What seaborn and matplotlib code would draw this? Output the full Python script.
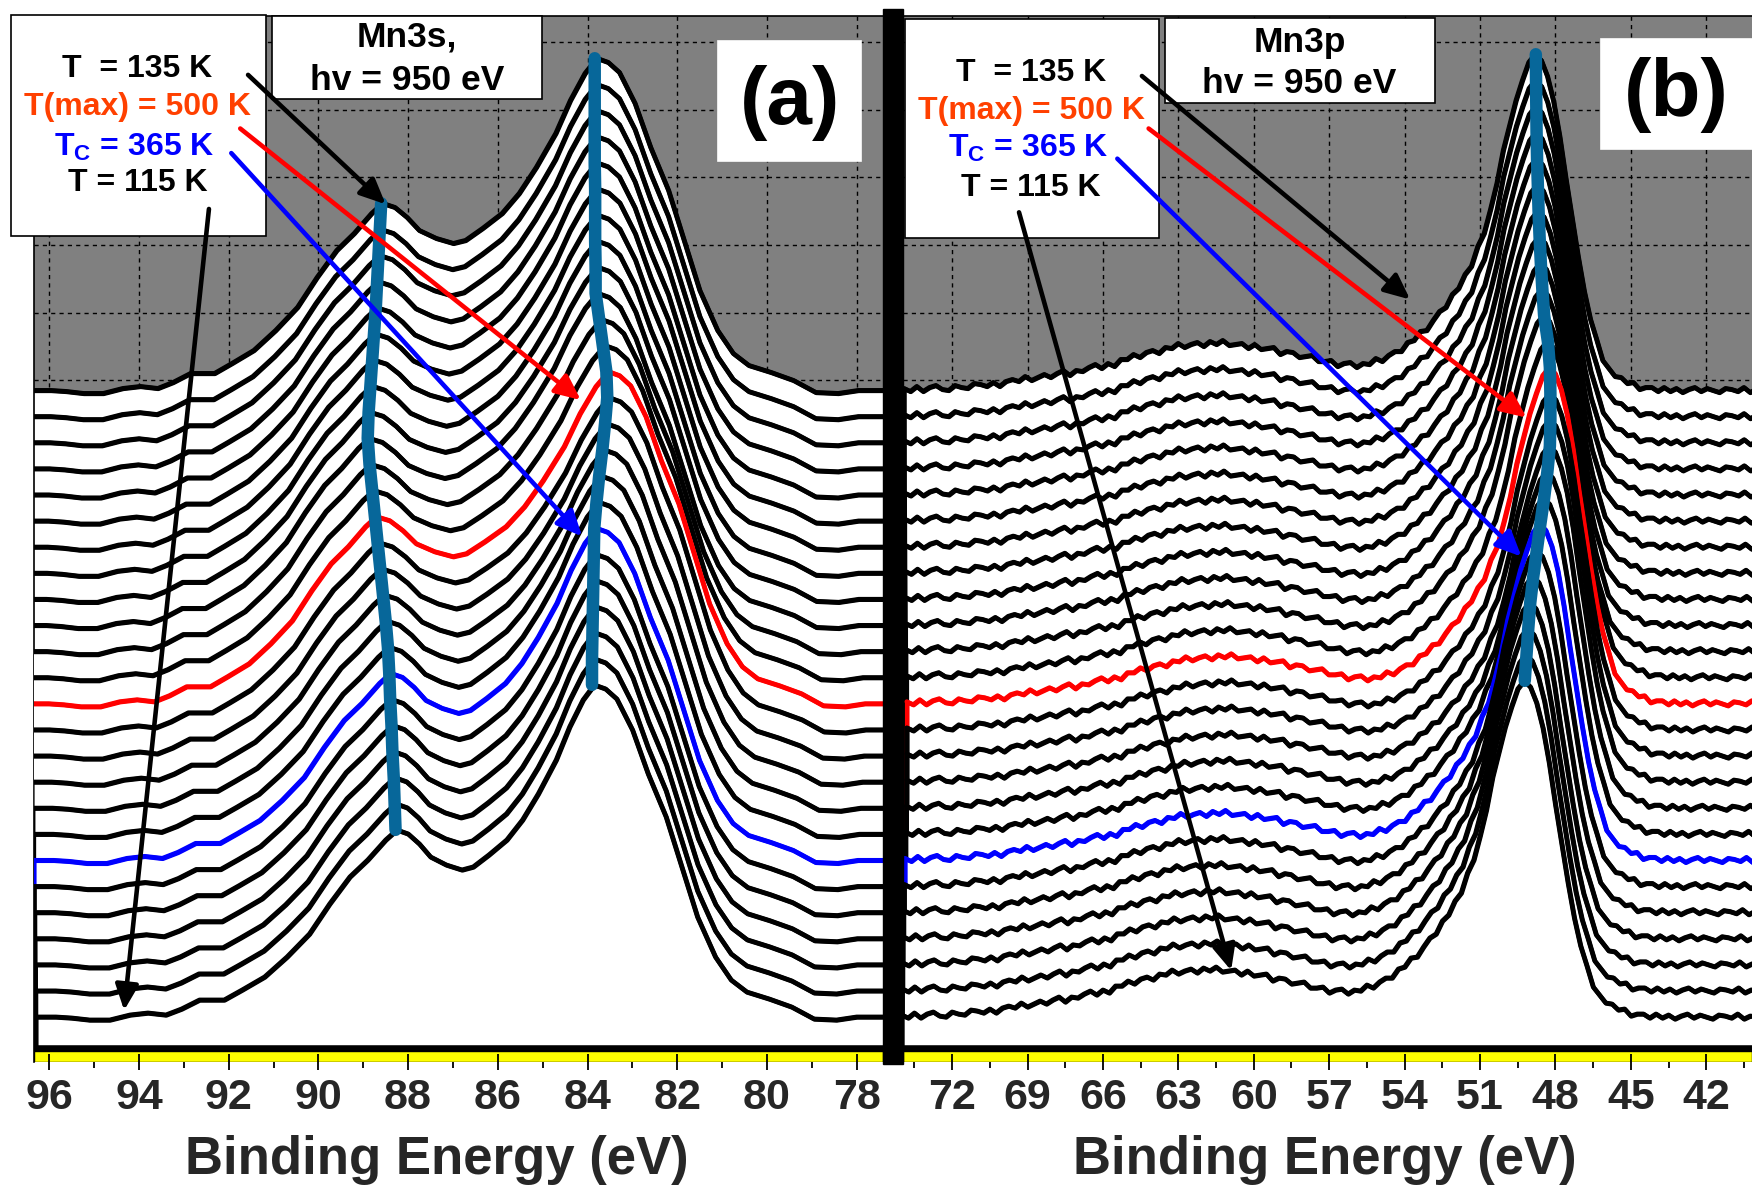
import numpy as np
import matplotlib
matplotlib.use("Agg")
import matplotlib.pyplot as plt
import seaborn as sns
from matplotlib.patches import Rectangle
from matplotlib.ticker import MultipleLocator
from matplotlib import font_manager

# ---- values ----
# Mn3s spectrum of the lowest curve (T = 115 K), intensity in arb. units
mn3s_energy = [96.30, 95.85, 95.50, 95.10, 94.65, 94.20, 93.80, 93.40, 93.05, 92.65,
               92.10, 91.70, 91.20, 90.70, 90.20, 89.75, 89.30, 88.90, 88.50, 88.25,
               88.00, 87.75, 87.50, 87.15, 86.80, 86.55, 86.20, 85.80, 85.45, 85.10,
               84.70, 84.40, 84.10, 83.85, 83.60, 83.35, 83.00, 82.65, 82.25, 81.90,
               81.55, 81.15, 80.80, 80.45, 79.95, 79.45, 78.95, 78.45, 78.00, 77.35]
mn3s_intensity = [0, 0, -1, -3, -3, 2, 4, 2, 8, 17,
                  17, 27, 40, 60, 83, 113, 140, 157, 177, 187,
                  183, 173, 160, 152, 147, 150, 162, 177, 197, 223,
                  257, 290, 317, 332, 328, 318, 287, 243, 200, 150,
                  100, 60, 37, 25, 18, 10, -2, -3, 0, 0]

# Mn3p spectrum of the lowest curve, every 0.25 eV from 74 eV down to 40 eV
mn3p_energy = np.arange(74.0, 39.99, -0.25)
mn3p_intensity = [2, -1, 4, -1, 3, 5, 1, 0,
                  5, 3, 2, 7, 6, 4, 8, 4,
                  9, 11, 9, 14, 10, 13, 16, 13,
                  17, 20, 15, 20, 19, 23, 26, 22,
                  27, 24, 31, 31, 36, 33, 38, 40,
                  37, 43, 42, 47, 43, 46, 48, 44,
                  49, 46, 50, 45, 46, 47, 42, 46,
                  41, 42, 43, 36, 39, 38, 33, 34,
                  35, 29, 29, 30, 24, 27, 28, 23,
                  27, 26, 32, 29, 35, 39, 39, 48,
                  50, 59, 60, 70, 79, 83, 96, 102,
                  116, 124, 144, 157, 181, 207, 240, 265,
                  290, 310, 328, 336, 330, 314, 289, 254,
                  212, 173, 134, 99, 71, 51, 30, 22,
                  14, 13, 7, 8, 1, 3, 3, -1,
                  3, -1, 2, -2, 1, 3, -1, 2,
                  0, -2, 2, 1, -1, 3, -2, 1,
                  0]

# peak positions (eV) followed by the thick lines, lowest curve (115 K) -> top curve (135 K)
mn3s_peak_88 = [88.28, 88.30, 88.32, 88.35, 88.37, 88.40, 88.42, 88.45, 88.50, 88.56,
                88.62, 88.68, 88.74, 88.80, 88.86, 88.90, 88.88, 88.84, 88.80, 88.76,
                88.72, 88.69, 88.66, 88.63, 88.60]
mn3s_peak_84 = [83.90, 83.90, 83.89, 83.88, 83.87, 83.86, 83.85, 83.80, 83.74, 83.67,
                83.61, 83.56, 83.58, 83.66, 83.74, 83.82, 83.82, 83.83, 83.83, 83.83,
                83.84, 83.84, 83.84, 83.84, 83.84]
mn3p_peak_48 = [49.22, 49.15, 49.08, 49.00, 48.88, 48.74, 48.60, 48.45, 48.32, 48.22,
                48.20, 48.20, 48.22, 48.30, 48.45, 48.52, 48.58, 48.63, 48.67, 48.70,
                48.73, 48.75, 48.76, 48.77, 48.78]

n_curves = 25
i_tc = 6      # Tc = 365 K (blue)
i_tmax = 12   # T(max) = 500 K (red)
labels = ["T  = 135 K", "T(max) = 500 K", r"T$_\mathrm{C}$ = 365 K", "T = 115 K"]
label_colors = ["black", "#ff4000", "#0000ff", "black"]

# ---- layout / style ----
step = 26.1          # vertical offset between spectra
base = -31.0         # bottom of the white fills
ylim = (-44.7, 1001.0)
teal = "#07679a"
lw_curve = 3.3

sns.set_theme(style="ticks")
plt.rcParams["font.family"] = ["Liberation Sans", "DejaVu Sans"]
plt.rcParams["font.weight"] = "bold"
plt.rcParams["mathtext.fontset"] = "custom"
plt.rcParams["mathtext.rm"] = "Liberation Sans:bold"
plt.rcParams["mathtext.bf"] = "Liberation Sans:bold"

installed = {f.name for f in font_manager.fontManager.ttflist}
narrow = "Liberation Sans Narrow" in installed
print("narrow font available:", narrow)
tick_family = "Liberation Sans Narrow" if narrow else "Liberation Sans"
tick_size = 35 if narrow else 31

W, H = 1568.0, 1064.0


def fxy(x, y):
    return (x / W, 1 - y / H)


fig = plt.figure(figsize=(17.52, 11.89), dpi=100, facecolor="white")
ax_a = fig.add_axes([30 / W, 1 - 950 / H, 760 / W, 936 / H])
ax_b = fig.add_axes([808 / W, 1 - 950 / H, 760 / W, 936 / H])


def draw_panel(ax, energy, intensity, peak_sets, lo, hi):
    energy = np.asarray(energy, float)
    intensity = np.asarray(intensity, float)
    ref = sorted([(p[0], k) for k, p in enumerate(peak_sets)])
    curves = []
    for i in range(n_curves):
        xp = [lo] + [r for r, k in ref] + [hi]
        fp = [lo] + [peak_sets[k][i] for r, k in ref] + [hi]
        curves.append((np.interp(energy, xp, fp), intensity + i * step))
    for i in reversed(range(n_curves)):
        e_i, y_i = curves[i]
        color = "red" if i == i_tmax else ("blue" if i == i_tc else "black")
        z = 2 + (n_curves - i) * 0.05
        ax.fill_between(e_i, y_i, base, facecolor="white", edgecolor=color,
                        linewidth=lw_curve, zorder=z, joinstyle="round")
        sns.lineplot(x=e_i, y=y_i, color=color, linewidth=lw_curve, sort=False,
                     estimator=None, zorder=z + 0.01, ax=ax)
    for peaks in peak_sets:
        tx, ty = [], []
        for i in range(n_curves):
            e_i, y_i = curves[i]
            m = np.abs(e_i - peaks[i]) < 0.6
            tx.append(peaks[i])
            ty.append(y_i[m].max())
        sns.lineplot(x=tx, y=ty, color=teal, linewidth=9, sort=False,
                     estimator=None, zorder=5, ax=ax)
    return curves


def style_axes(ax, xlim, major, minor, label_x):
    ax.set_facecolor("#808080")
    ax.set_xlim(*xlim)
    ax.set_ylim(*ylim)
    ax.xaxis.set_major_locator(MultipleLocator(major))
    ax.xaxis.set_minor_locator(MultipleLocator(minor))
    for x in ax.xaxis.get_majorticklocs():
        ax.axvline(x, color="black", ls=(0, (3, 3)), lw=1.0, zorder=0.6)
    for y in MultipleLocator(67.5, offset=29.2).tick_values(*ylim):
        ax.axhline(y, color="black", ls=(0, (3, 3)), lw=1.0, zorder=0.6)
    ax.grid(False)
    ax.axhline(base, color="black", lw=4, zorder=6)
    ax.axhspan(ylim[0], -34.5, facecolor="#ffff00", edgecolor="black", lw=1.0, zorder=6)
    ax.xaxis.set_zorder(7)
    ax.tick_params(axis="x", which="major", direction="inout", length=12, width=1.3,
                   color="black", labelsize=tick_size, pad=6, bottom=True, top=False)
    ax.tick_params(axis="x", which="minor", direction="out", length=4, width=1.3,
                   color="black", bottom=True, top=False)
    ax.tick_params(axis="y", which="both", left=False, right=False, labelleft=False)
    for lbl in ax.get_xticklabels():
        lbl.set_family([tick_family, "Liberation Sans", "DejaVu Sans"])
        lbl.set_fontweight("bold")
    for s in ["bottom", "right"]:
        ax.spines[s].set_visible(False)
    for s in ["top", "left"]:
        ax.spines[s].set_linewidth(1.2)
        ax.spines[s].set_color("black")
    ax.set_ylabel("")
    ax.set_xlabel("Binding Energy (eV)", fontsize=38, fontweight="bold")
    ax.xaxis.set_label_coords(label_x, -0.070)


def box(ax, x0, y0, x1, y1, edge=True):
    ax.add_patch(Rectangle(fxy(x0, y1), (x1 - x0) / W, (y1 - y0) / H,
                           transform=fig.transFigure, facecolor="white",
                           edgecolor="black" if edge else "white",
                           lw=1.2, zorder=7, clip_on=False))


def text(ax, x, y, s, size, color="black"):
    ax.text(*fxy(x, y), s, transform=fig.transFigure, ha="center", va="center",
            fontsize=size, color=color, fontweight="bold", zorder=8)


def arrow(ax, start, curve, energy, color, dy=0.0):
    e_i, y_i = curve
    y = np.interp(energy, e_i[::-1], y_i[::-1]) + dy
    ax.annotate("", xy=(energy, y), xycoords="data", xytext=fxy(*start),
                textcoords="figure fraction", annotation_clip=False, zorder=9,
                arrowprops=dict(arrowstyle="-|>,head_length=0.55,head_width=0.25",
                                color=color, lw=3.3, shrinkA=0, shrinkB=0,
                                mutation_scale=28))


# ---- panel (a): Mn3s ----
curves_a = draw_panel(ax_a, mn3s_energy, mn3s_intensity, [mn3s_peak_88, mn3s_peak_84], 70.0, 100.0)
style_axes(ax_a, (96.35, 77.42), 2, 1, 0.475)
box(ax_a, 10, 13, 238, 211)
for (yy, xx), s, c in zip([(62, 123), (96, 123), (132, 120), (164, 123)], labels, label_colors):
    text(ax_a, xx, yy, s, 23, c)
box(ax_a, 243, 14, 485, 89)
text(ax_a, 364, 33, "Mn3s,", 25.5)
text(ax_a, 364, 72, "hv = 950 eV", 25.5)
box(ax_a, 643, 37, 771, 144, edge=False)
text(ax_a, 707, 92, "(a)", 59)
arrow(ax_a, (222, 67), curves_a[24], 88.50, "black")
arrow(ax_a, (215, 115), curves_a[i_tmax], 84.15, "red", dy=12)
arrow(ax_a, (207, 137), curves_a[i_tc], 84.12, "blue", dy=12)
arrow(ax_a, (187, 187), curves_a[0], 94.33, "black", dy=6)

# ---- panel (b): Mn3p ----
curves_b = draw_panel(ax_b, mn3p_energy, mn3p_intensity, [mn3p_peak_48], 30.0, 80.0)
style_axes(ax_b, (73.96, 40.18), 3, 1.5, 0.497)
box(ax_b, 810, 17, 1037, 213)
for (yy, xx), s, c in zip([(65, 923), (99, 923), (133, 920), (168, 923)], labels, label_colors):
    text(ax_b, xx, yy, s, 23, c)
box(ax_b, 1043, 16, 1284, 92)
text(ax_b, 1163, 38, "Mn3p", 25.5)
text(ax_b, 1163, 75, "hv = 950 eV", 25.5)
box(ax_b, 1433, 35, 1600, 133, edge=False)
text(ax_b, 1500, 85, "(b)", 59)
arrow(ax_b, (1022, 68), curves_b[24], 53.78, "black", dy=42)
arrow(ax_b, (1028, 115), curves_b[i_tmax], 49.15, "red", dy=8)
arrow(ax_b, (1000, 142), curves_b[i_tc], 49.35, "blue", dy=10)
arrow(ax_b, (912, 190), curves_b[0], 60.9, "black")

# thick separator between the panels
fig.add_artist(Rectangle((790 / W, 1 - 952 / H), 18 / W, 944 / H,
                         transform=fig.transFigure, color="black", zorder=10))

fig.savefig("out.png", dpi=100)
print("saved out.png")
